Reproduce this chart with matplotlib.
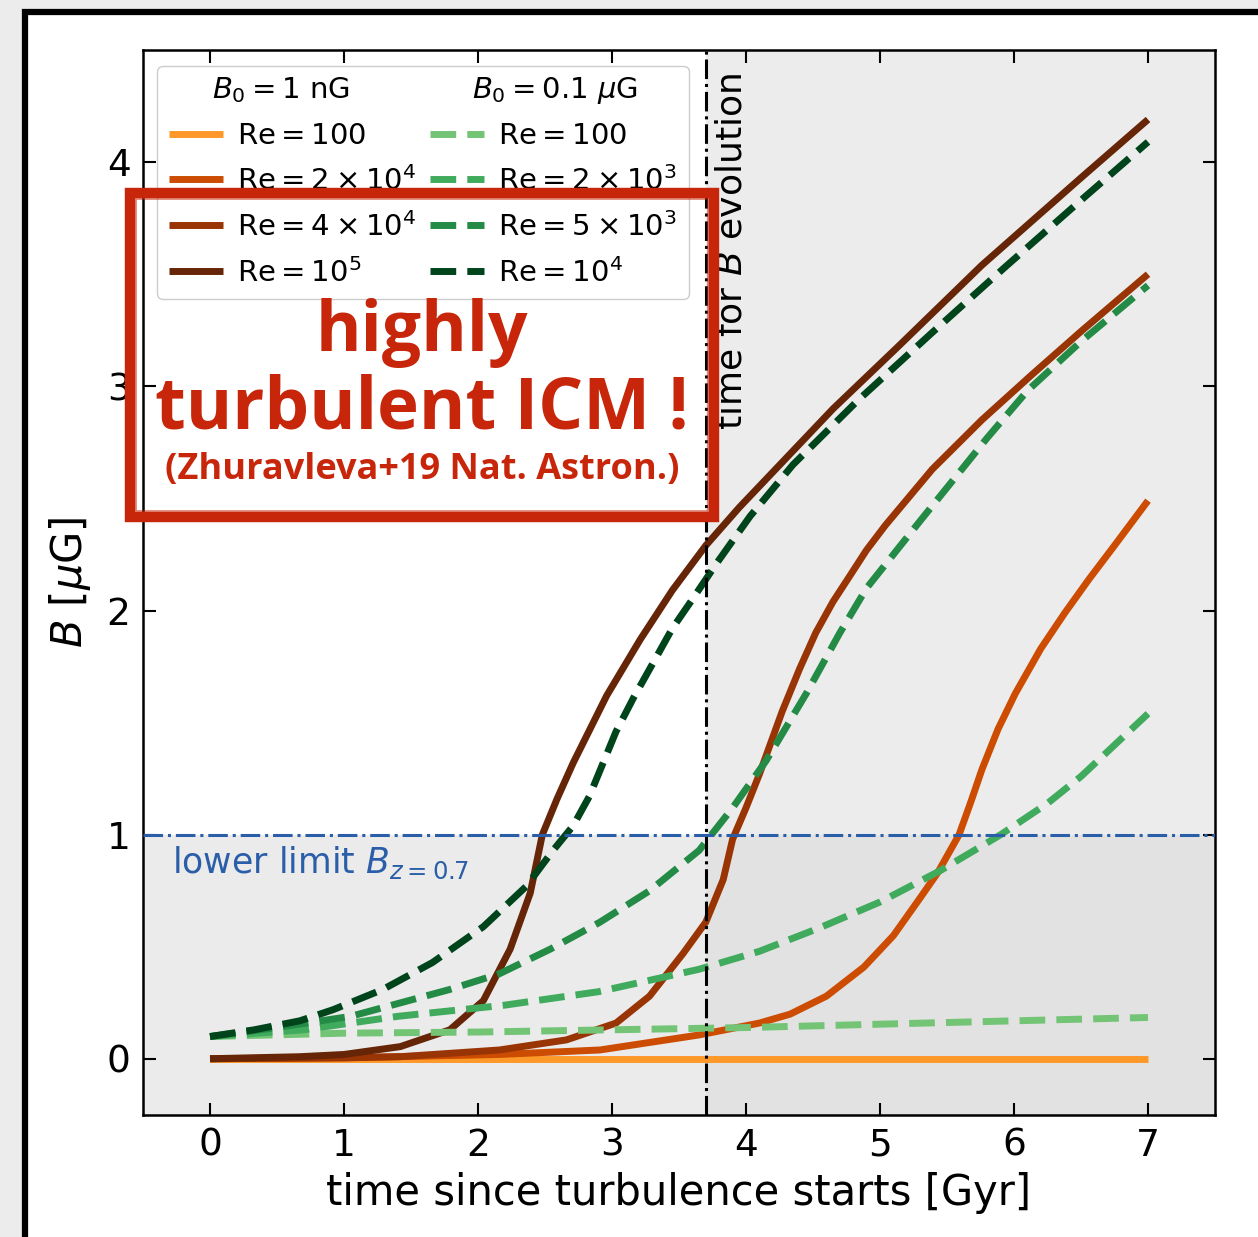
import numpy as np
import matplotlib
matplotlib.use("Agg")
from matplotlib import pyplot as plt
from matplotlib.patches import Rectangle
from matplotlib.lines import Line2D

# B field vs time (t in Gyr, B in muG)
t_o100 = [0, 1, 2, 3, 4, 5, 6, 7]
b_o100 = [0.001, 0.001, 0.001, 0.001, 0.001, 0.001, 0.001, 0.001]

t_o2e4 = [0, 1, 2.16, 2.91, 3.65, 4.1, 4.33, 4.6, 4.88, 5.1, 5.29, 5.43, 5.59, 5.68, 5.76, 5.88, 6.01, 6.2, 6.38, 6.56, 6.75, 7]
b_o2e4 = [0.001, 0.005, 0.02, 0.04, 0.107, 0.16, 0.2, 0.28, 0.41, 0.55, 0.71, 0.83, 1.0, 1.15, 1.29, 1.47, 1.63, 1.83, 1.99, 2.14, 2.29, 2.49]

t_o4e4 = [0, 1, 1.42, 2.16, 2.66, 3.03, 3.28, 3.53, 3.7, 3.83, 3.9, 4.0, 4.1, 4.27, 4.4, 4.52, 4.65, 4.77, 4.9, 5.04, 5.39, 5.76, 6.13, 6.51, 7]
b_o4e4 = [0.001, 0.005, 0.01, 0.04, 0.085, 0.16, 0.28, 0.47, 0.61, 0.8, 0.98, 1.12, 1.27, 1.55, 1.74, 1.9, 2.04, 2.15, 2.27, 2.38, 2.63, 2.85, 3.05, 3.25, 3.5]

t_o1e5 = [0, 0.67, 1.0, 1.42, 1.79, 2.04, 2.24, 2.39, 2.48, 2.59, 2.71, 2.96, 3.21, 3.45, 3.7, 3.95, 4.3, 4.65, 5.14, 5.76, 6.5, 7]
b_o1e5 = [0.001, 0.01, 0.02, 0.055, 0.13, 0.26, 0.49, 0.74, 1.0, 1.16, 1.32, 1.62, 1.87, 2.09, 2.29, 2.46, 2.68, 2.9, 3.18, 3.54, 3.93, 4.19]

t_g100 = [0, 1, 2, 3, 4, 5, 6, 7]
b_g100 = [0.10, 0.115, 0.12, 0.13, 0.14, 0.155, 0.17, 0.185]

t_g2e3 = [0, 0.7, 1.4, 2.2, 2.9, 3.65, 4.1, 4.55, 5.0, 5.45, 5.9, 6.25, 6.5, 7]
b_g2e3 = [0.1, 0.13, 0.19, 0.24, 0.30, 0.40, 0.48, 0.585, 0.70, 0.84, 1.0, 1.14, 1.26, 1.54]

t_g5e3 = [0, 0.5, 1.05, 1.42, 1.79, 2.16, 2.54, 2.91, 3.28, 3.65, 3.9, 4.15, 4.45, 4.7, 4.9, 5.3, 5.8, 6.1, 6.5, 7]
b_g5e3 = [0.1, 0.14, 0.19, 0.25, 0.31, 0.38, 0.49, 0.61, 0.75, 0.93, 1.12, 1.33, 1.63, 1.9, 2.1, 2.4, 2.77, 2.98, 3.2, 3.45]

t_g1e4 = [0, 0.33, 0.67, 0.92, 1.29, 1.66, 2.04, 2.36, 2.56, 2.71, 2.83, 3.03, 3.16, 3.31, 3.45, 3.6, 3.78, 4.03, 4.35, 4.84, 5.39, 5.93, 6.5, 7]
b_g1e4 = [0.1, 0.13, 0.17, 0.22, 0.31, 0.43, 0.59, 0.77, 0.93, 1.04, 1.17, 1.46, 1.61, 1.77, 1.92, 2.05, 2.21, 2.42, 2.65, 2.94, 3.24, 3.53, 3.83, 4.09]

solid_runs = [(t_o100, b_o100), (t_o2e4, b_o2e4), (t_o4e4, b_o4e4), (t_o1e5, b_o1e5)]
dashed_runs = [(t_g100, b_g100), (t_g2e3, b_g2e3), (t_g5e3, b_g5e3), (t_g1e4, b_g1e4)]
solid_labels = [r"$\mathrm{Re} = 100$", r"$\mathrm{Re} = 2\times10^4$", r"$\mathrm{Re} = 4\times10^4$", r"$\mathrm{Re} = 10^5$"]
dashed_labels = [r"$\mathrm{Re} = 100$", r"$\mathrm{Re} = 2\times10^3$", r"$\mathrm{Re} = 5\times10^3$", r"$\mathrm{Re} = 10^4$"]
headers = [r"$B_0 = 1$ nG", r"$B_0 = 0.1\ \mu$G"]
orange_cols = ["#fe9929", "#cc4c02", "#993404", "#662506"]
green_cols = ["#74c476", "#41ab5d", "#238b45", "#00441b"]

t_evol = 3.7
b_lower = 1.0

fig = plt.figure(figsize=(12.58, 12.37), dpi=100)
fig.patch.set_facecolor("#ececec")
fig.patches.append(Rectangle((25/1258, -0.05), 1.1, 1.05 - 12/1237, transform=fig.transFigure,
                             facecolor="white", edgecolor="black", lw=4.5, zorder=-10))

ax = fig.add_axes([143/1258, 1 - 1115/1237, (1215-143)/1258, (1115-50)/1237])
ax.set_xlim(-0.5, 7.5)
ax.set_ylim(-0.25, 4.5)

# shaded regions
yf = (b_lower + 0.25) / 4.75
xf = (t_evol + 0.5) / 8.0
ax.axhspan(-0.25, b_lower, xmin=0, xmax=xf, color="#ebebeb", lw=0, zorder=0)
ax.axvspan(t_evol, 7.5, ymin=yf, ymax=1, color="#ececec", lw=0, zorder=0)
ax.axvspan(t_evol, 7.5, ymin=0, ymax=yf, color="#e2e2e2", lw=0, zorder=0)

handles = [Line2D([], [], ls="none", label=" ")]
for (t, b), c, lab in zip(solid_runs, orange_cols, solid_labels):
    h, = ax.plot(t, b, color=c, lw=5, label=lab, zorder=2, solid_capstyle="butt",
                 solid_joinstyle="round")
    handles.append(h)
handles.append(Line2D([], [], ls="none", label=" "))
for (t, b), c, lab in zip(dashed_runs, green_cols, dashed_labels):
    h, = ax.plot(t, b, color=c, lw=5, ls="--", label=lab, zorder=3, dash_joinstyle="round")
    handles.append(h)

ax.axvline(t_evol, color="black", ls="-.", lw=2.2, zorder=4)
ax.axhline(b_lower, color="#2a5ea8", ls="-.", lw=2.2, zorder=4)
ax.text(-0.28, 0.955, r"lower limit $B_{z=0.7}$", color="#2a5ea8", fontsize=25, va="top", ha="left")
ax.text(3.89, 4.4, r"time for $B$ evolution", rotation=90, fontsize=26, va="top", ha="center")

leg = ax.legend(handles=handles, ncol=2, loc="upper left", fontsize=21, handlelength=1.85,
                handletextpad=0.5, columnspacing=0.45, labelspacing=0.55,
                bbox_to_anchor=(14/1072, 1 - 16/1065), borderaxespad=0, borderpad=0.4,
                framealpha=1.0, edgecolor="#cccccc")
leg.set_zorder(5)
fig.text(212/1258, 1 - 90/1237, headers[0], fontsize=21, va="center", ha="left")
fig.text(472/1258, 1 - 90/1237, headers[1], fontsize=21, va="center", ha="left")

ax.set_xticks(range(8))
ax.set_yticks(range(5))
ax.tick_params(direction="in", length=9, width=1.5, top=True, right=True, labelsize=27, pad=9)
for s in ax.spines.values():
    s.set_linewidth(1.8)
ax.set_xlabel("time since turbulence starts [Gyr]", fontsize=30, labelpad=6)
ax.set_ylabel(r"$B$ [$\mu$G]", fontsize=30, labelpad=10)

# red overlay box with text
red = "#c8260b"
fig.patches.append(Rectangle((130/1258, 1 - 517/1237), 584/1258, 324/1237, transform=fig.transFigure,
                             facecolor="none", edgecolor=red, lw=7.5, zorder=20))
fig.patches.append(Rectangle((136/1258, 1 - 511/1237), 572/1258, 312/1237, transform=fig.transFigure,
                             facecolor="none", edgecolor=red, lw=1.2, alpha=0.6, zorder=20))
fig.text(422/1258, 1 - 333/1237, "highly", color=red, fontsize=50, family="Open Sans", weight="bold",
         ha="center", va="center", zorder=21)
fig.text(422/1258, 1 - 410/1237, "turbulent ICM !", color=red, fontsize=51, family="Open Sans",
         weight="bold", ha="center", va="center", zorder=21)
fig.text(422/1258, 1 - 470/1237, "(Zhuravleva+19 Nat. Astron.)", color=red, fontsize=26,
         family="Open Sans", weight="bold", ha="center", va="center", zorder=21)

fig.savefig("out.png", dpi=100, facecolor=fig.get_facecolor())
